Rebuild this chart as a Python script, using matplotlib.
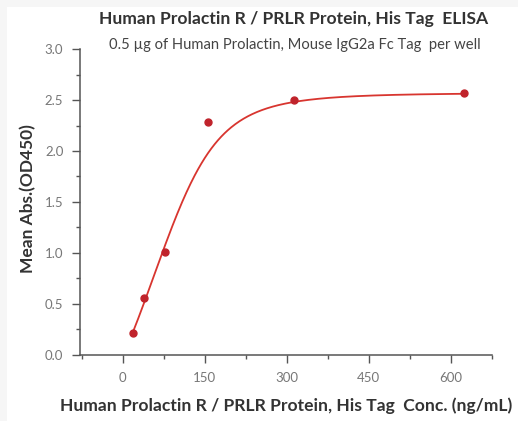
import numpy as np
import matplotlib
matplotlib.use("Agg")
import matplotlib.pyplot as plt
from matplotlib.ticker import MultipleLocator
from matplotlib.patches import Rectangle

# data
conc = [19.5, 39, 78, 156, 312.5, 625]
od450 = [0.22, 0.56, 1.01, 2.28, 2.50, 2.57]

# 5PL curve parameters (estimated from the drawn fit line)
fit_bottom = 0.0
fit_top = 2.57
fit_c = 165.0
fit_b = 3.4
fit_g = 0.33

title = "Human Prolactin R / PRLR Protein, His Tag  ELISA"
subtitle = "0.5 \u00b5g of Human Prolactin, Mouse IgG2a Fc Tag  per well"
xlabel = "Human Prolactin R / PRLR Protein, His Tag  Conc. (ng/mL)"
ylabel = "Mean Abs.(OD450)"

plt.rcParams['font.family'] = ['Lato', 'DejaVu Sans']

x = np.array(conc)
y = np.array(od450)

xs = np.linspace(x.min(), x.max(), 400)
ys = fit_bottom + (fit_top - fit_bottom) / (1.0 + (fit_c / xs) ** fit_b) ** fit_g

fig = plt.figure(figsize=(5.18, 4.21), dpi=100, facecolor='white')
fig.patches.append(Rectangle((0, 0), 0.014, 1, transform=fig.transFigure,
                             facecolor='#f6f6f6', edgecolor='none', zorder=-1))
fig.patches.append(Rectangle((0, 0.983), 1, 0.017, transform=fig.transFigure,
                             facecolor='#f6f6f6', edgecolor='none', zorder=-1))

ax = fig.add_axes([0.1544, 0.1568, 0.795, 0.7268])
ax.plot(xs, ys, color='#d8352f', lw=1.3, zorder=2)
ax.plot(x, y, 'o', color='#c0232b', ms=5, zorder=3)

ax.set_xlim(-78, 675)
ax.set_ylim(0, 3.0)
ax.xaxis.set_major_locator(MultipleLocator(150))
ax.xaxis.set_minor_locator(MultipleLocator(75))
ax.yaxis.set_major_locator(MultipleLocator(0.5))
ax.yaxis.set_minor_locator(MultipleLocator(0.25))
ax.yaxis.set_major_formatter(plt.FormatStrFormatter('%.1f'))

for s in ['top', 'right']:
    ax.spines[s].set_visible(False)
for s in ['left', 'bottom']:
    ax.spines[s].set_color('#555555')
    ax.spines[s].set_linewidth(1.1)

ax.tick_params(which='major', direction='out', length=6, width=1.0,
               color='#555555', labelsize=9.5, labelcolor='#777777', pad=6)
ax.tick_params(which='minor', direction='out', length=3, width=1.0, color='#555555')

ax.set_xlabel(xlabel, fontsize=12.6, fontweight='bold', color='#333333', labelpad=10)
ax.set_ylabel(ylabel, fontsize=12.5, fontweight='bold', color='#333333')
ax.yaxis.set_label_coords(-0.105, 0.51)

fig.text(0.567, 0.955, title, ha='center', va='center', fontsize=12.6,
         fontweight='bold', color='#333333')
fig.text(0.57, 0.893, subtitle, ha='center', va='center', fontsize=10.6,
         color='#444444')

fig.savefig('out.png', dpi=100, facecolor=fig.get_facecolor())
